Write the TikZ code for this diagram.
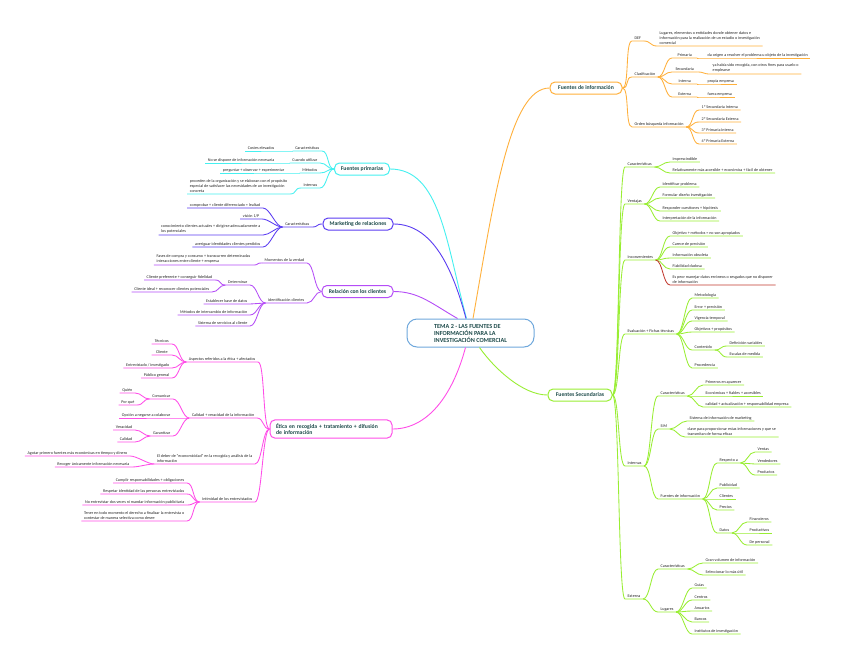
\documentclass[tikz,border=0pt]{standalone}
\usepackage{fontspec}
\setmainfont{Carlito}
\usepackage{tikz}

\definecolor{cOrange}{HTML}{FFB03B}
\definecolor{cLime}{HTML}{99EE33}
\definecolor{cCyan}{HTML}{45F0F0}
\definecolor{cViolet}{HTML}{5B3DF2}
\definecolor{cPurple}{HTML}{B54DF7}
\definecolor{cPink}{HTML}{FF4DE8}
\definecolor{cRed}{HTML}{C23A30}
\definecolor{topictxt}{HTML}{1E4B4B}
\definecolor{centre}{HTML}{6FA8DC}

\newcommand{\lffont}{\fontsize{4.1}{5.1}\selectfont}
\newcommand{\tpfont}{\bfseries\fontsize{5.7}{6.7}\selectfont}

\tikzset{
  lbl/.style={font=\lffont, text=black!85, inner xsep=2.5pt, inner ysep=0.7pt},
  rt/.style={lbl, text depth=0.9pt, anchor=south west},
  lt/.style={lbl, text depth=0.9pt, anchor=south east},
  rtm/.style={lbl, align=left, inner ysep=1.3pt, anchor=south west},
  ltm/.style={lbl, align=left, inner ysep=1.3pt, anchor=south east},
  topic/.style={draw=#1, rounded corners=5pt, line width=1pt, fill=white,
    font=\tpfont, text=topictxt, inner xsep=5pt, minimum height=12pt},
  rlink/.style={line width=0.85pt, draw=#1, out=0, in=180, distance=7pt},
  llink/.style={line width=0.85pt, draw=#1, out=180, in=0, distance=7pt},
}

\begin{document}
\begin{tikzpicture}[x=1pt,y=-1pt]
  \fill[white,use as bounding box] (0,0) rectangle (848,664);

  % centre
  \node[draw=centre, line width=1pt, rounded corners=10pt, fill=white,
    font=\bfseries\fontsize{6.2}{7}\selectfont, text=topictxt, align=left,
    inner xsep=12pt, minimum width=127pt, minimum height=28pt] (c) at (470.5,333)
    {TEMA 2 - LAS FUENTES DE\\INFORMACIÓN PARA LA\\INVESTIGACIÓN COMERCIAL};

  % Fuentes de informacion
  \node[topic=cOrange, minimum width=72pt] (fi) at (586,88) {Fuentes de información};
  \node[rt] (def) at (632,41) {DEF};
  \node[rtm] (defl) at (657,46) {Lugares, elementos o entidades donde obtener datos e\\información para la realización de un estudio o investigación\\comercial};
  \node[rt] (clas) at (632,77) {Clasificación};
  \node[rt, minimum width=25pt] (prim) at (672,58) {Primaria};
  \node[rt] (priml) at (705,58) {da origen a resolver el problema u objeto de la investigación};
  \node[rt, minimum width=25pt] (sec) at (672,72) {Secundaria};
  \node[rtm] (secl) at (710,74) {ya había sido recogida, con otros fines para usarlo o\\emplearse};
  \node[rt, minimum width=25pt] (int) at (672,84) {Interna};
  \node[rt] (intl) at (705,84) {propia empresa};
  \node[rt, minimum width=25pt] (ext) at (672,97) {Externa};
  \node[rt] (extl) at (705,97) {fuera empresa};
  \node[rt] (ord) at (632,127) {Orden búsqueda información};
  \node[rt] (o1) at (699,110) {1º Secundaria Interna};
  \node[rt] (o2) at (699,122) {2º Secundaria Externa};
  \node[rt] (o3) at (699,133) {3º Primaria Interna};
  \node[rt] (o4) at (699,144) {4º Primaria Externa};

  % Fuentes Secundarias
  \node[topic=cLime, minimum width=64pt] (fs) at (580,395) {Fuentes Secundarias};
  \node[rt] (car) at (625,167) {Características};
  \node[rt] (car1) at (670,162) {Imprescindible};
  \node[rt] (car2) at (670,173) {Relativamente más accesible + económica + fácil de obtener};
  \node[rt] (ven) at (625,204) {Ventajas};
  \node[rt] (ven1) at (660,187) {Identificar problema};
  \node[rt] (ven2) at (660,198) {Formular diseño investigación};
  \node[rt] (ven3) at (660,211) {Responder cuestiones + hipótesis};
  \node[rt] (ven4) at (660,221) {Interpretación de la información};
  \node[rt] (inc) at (625,260) {Inconvenientes};
  \node[rt] (inc1) at (670,236) {Objetivo + métodos = no son apropiados};
  \node[rt] (inc2) at (670,247) {Carece de precisión};
  \node[rt] (inc3) at (670,258) {Información obsoleta};
  \node[rt] (inc4) at (670,269) {Fiabilidad dudosa};
  \node[rtm] (inc5) at (670,285) {Es peor manejar datos erróneos o sesgados que no disponer\\de información};
  \node[rt] (eva) at (625,334) {Evaluación + Fichas técnicas};
  \node[rt] (ev1) at (692,298) {Metodología};
  \node[rt] (ev2) at (692,310) {Error + precisión};
  \node[rt] (ev3) at (692,321) {Vigencia temporal};
  \node[rt] (ev4) at (692,332) {Objetivos + propósitos};
  \node[rt] (ev5) at (692,350) {Contenido};
  \node[rt] (ev51) at (727,346) {Definición variables};
  \node[rt] (ev52) at (727,357) {Escalas de medida};
  \node[rt] (ev6) at (692,368) {Procedencia};
  \node[rt] (inte) at (625,466) {Internas};
  \node[rt] (icar) at (658,396) {Características};
  \node[rt] (icar1) at (703,385) {Primeros en aparecer};
  \node[rt] (icar2) at (703,396) {Económicas + fiables + accesibles};
  \node[rt] (icar3) at (703,407) {calidad + actualización + responsabilidad empresa};
  \node[rt] (sim) at (658,429) {SIM};
  \node[rt] (sim1) at (687,421) {Sistema de información de marketing};
  \node[rtm] (sim2) at (685,437) {clave para proporcionar estas informaciones y que se\\transmitan de forma eficaz};
  \node[rt] (ifu) at (658,499) {Fuentes de información};
  \node[rt] (res) at (717,463) {Respecto a};
  \node[rt] (res1) at (755,452) {Ventas};
  \node[rt] (res2) at (755,464) {Vendedores};
  \node[rt] (res3) at (755,475) {Productos};
  \node[rt] (pub) at (717,488) {Publicidad};
  \node[rt] (cli) at (717,499) {Clientes};
  \node[rt] (pre) at (717,510) {Precios};
  \node[rt] (dat) at (717,533) {Datos};
  \node[rt] (dat1) at (747,522) {Financieros};
  \node[rt] (dat2) at (747,533) {Productivos};
  \node[rt] (dat3) at (747,545) {De personal};
  \node[rt] (exte) at (625,599) {Externa};
  \node[rt] (ecar) at (658,569) {Características};
  \node[rt] (ecar1) at (703,563) {Gran volumen de información};
  \node[rt] (ecar2) at (703,575) {Seleccionar lo más útil};
  \node[rt] (lug) at (658,612) {Lugares};
  \node[rt] (lug1) at (692,588) {Guías};
  \node[rt] (lug2) at (692,600) {Centros};
  \node[rt] (lug3) at (692,611) {Anuarios};
  \node[rt] (lug4) at (692,622) {Bancos};
  \node[rt] (lug5) at (692,634) {Institutos de investigación};

  % Fuentes primarias
  \node[topic=cCyan, minimum width=55pt] (fp) at (362,169) {Fuentes primarias};
  \node[lt] (pcar) at (322,151) {Características};
  \node[lt] (pcar1) at (277,151) {Costes elevados};
  \node[lt] (pcu) at (320,163) {Cuando utilizar};
  \node[lt] (pcu1) at (277,163) {No se dispone de información necesaria};
  \node[lt] (pme) at (320,173) {Métodos};
  \node[lt] (pme1) at (287,173) {preguntar + observar + experimentar};
  \node[lt] (pin) at (320,188) {Internas};
  \node[ltm] (pin1) at (290,194) {proceden de la organización y se elaboran con el propósito\\especial de satisfacer las necesidades de un investigación\\concreta};

  % Marketing de relaciones
  \node[topic=cViolet, minimum width=70pt] (mr) at (358,224) {Marketing de relaciones};
  \node[lt] (mcar) at (312,227) {Características};
  \node[lt] (m1) at (263,208) {comprobar + cliente diferenciado = lealtad};
  \node[lt] (m2) at (262,219) {visión 1/P};
  \node[ltm] (m3) at (263,235) {conocimiento clientes actuales + dirigirse adecuadamente a\\los potenciales};
  \node[lt] (m4) at (263,247) {averiguar identidades clientes perdidos};

  % Relacion con los clientes
  \node[topic=cPurple, minimum width=71pt] (rc) at (357.5,291.5) {Relación con los clientes};
  \node[lt] (rmo) at (307,263) {Momentos de la verdad};
  \node[ltm] (rmo1) at (253,265) {Fases de compra y consumo + transcurren determinadas\\interacciones entre cliente + empresa};
  \node[lt] (rid) at (307,303) {Identificación clientes};
  \node[lt] (rdet) at (250,285) {Determinar};
  \node[lt] (rdet1) at (215,280) {Cliente preferente + conseguir fidelidad};
  \node[lt] (rdet2) at (212,292) {Cliente ideal + reconocer clientes potenciales};
  \node[lt] (rba) at (250,304) {Establecer base de datos};
  \node[lt] (rme) at (250,315) {Métodos de intercambio de información};
  \node[lt] (rsi) at (250,326) {Sistema de servicios al cliente};

  % Etica
  \node[topic=cPink, align=left, text width=110pt, inner xsep=6pt] (et) at (331,429)
    {Ética en recogida + tratamiento + difusión\\de información};
  \node[lt] (easp) at (258,362) {Aspectos referidos a la ética + afectados};
  \node[lt, minimum width=20pt] (ea1) at (172,344) {Técnicos};
  \node[lt, minimum width=20pt] (ea2) at (172,355) {Cliente};
  \node[lt] (ea3) at (172,368) {Entrevistado / investigado};
  \node[lt] (ea4) at (172,378) {Público general};
  \node[lt] (ecal) at (257,418) {Calidad + veracidad de la información};
  \node[lt] (ecom) at (173,399) {Comunicar};
  \node[lt] (ecom1) at (135,393) {Quién};
  \node[lt] (ecom2) at (137,405) {Por qué};
  \node[lt] (eop) at (173,418) {Opción a negarse a colaborar};
  \node[lt] (egar) at (173,436) {Garantizar};
  \node[lt] (egar1) at (135,430) {Veracidad};
  \node[lt] (egar2) at (135,442) {Calidad};
  \node[ltm] (eeco) at (255,464) {El deber de ``economicidad'' en la recogida y análisis de la\\información};
  \node[lt] (eeco1) at (130,456) {Agotar primero fuentes más económicas en tiempo y dinero};
  \node[lt] (eeco2) at (132,467) {Recoger únicamente información necesaria};
  \node[lt] (eint) at (255,502) {Intimidad de los entrevistados};
  \node[lt] (ei1) at (187,483) {Cumplir responsabilidades + obligaciones};
  \node[lt] (ei2) at (187,494) {Respetar identidad de las personas entrevistadas};
  \node[lt] (ei3) at (187,505) {No entrevistar dos veces ni mandar información publicitaria};
  \node[ltm] (ei4) at (187,521) {Tener en todo momento el derecho a finalizar la entrevista o\\contestar de manera selectiva como desee};

  % main branches
  \draw[line width=0.9pt, cOrange] ([xshift=2.5pt]c.north) to[out=80, in=180, out distance=120pt, in distance=40pt] (fi.west);
  \draw[line width=0.9pt, cLime] ([xshift=9pt]c.south) to[out=-55, in=180, out distance=25pt, in distance=25pt] (fs.west);
  \draw[line width=0.9pt, cCyan] ([xshift=-4pt]c.north) to[out=105, in=0, out distance=80pt, in distance=50pt] (fp.east);
  \draw[line width=0.9pt, cViolet] ([xshift=-4.5pt]c.north) to[out=105, in=0, out distance=50pt, in distance=40pt] (mr.east);
  \draw[line width=0.9pt, cPurple] ([xshift=-13pt]c.north) to[out=150, in=0, out distance=30pt, in distance=25pt] (rc.east);
  \draw[line width=0.9pt, cPink] ([xshift=-5pt]c.south) to[out=-105, in=0, out distance=50pt, in distance=35pt] (et.east);

  % right side
  \foreach \b in {def,clas,ord}
    \draw[rlink=cOrange] (fi.east) to (\b.south west) -- (\b.south east);
  \foreach \a/\b in {def/defl,clas/prim,clas/sec,clas/int,clas/ext,prim/priml,sec/secl,int/intl,ext/extl,ord/o1,ord/o2,ord/o3,ord/o4}
    \draw[rlink=cOrange] (\a.south east) to (\b.south west) -- (\b.south east);
  \foreach \b in {car,ven,inc,eva,inte,exte}
    \draw[rlink=cLime] (fs.east) to (\b.south west) -- (\b.south east);
  \foreach \a/\b in {car/car1,car/car2,ven/ven1,ven/ven2,ven/ven3,ven/ven4,inc/inc1,inc/inc2,inc/inc3,inc/inc4,
      eva/ev1,eva/ev2,eva/ev3,eva/ev4,eva/ev5,ev5/ev51,ev5/ev52,eva/ev6,
      inte/icar,icar/icar1,icar/icar2,icar/icar3,inte/sim,sim/sim1,sim/sim2,inte/ifu,
      ifu/res,res/res1,res/res2,res/res3,ifu/pub,ifu/cli,ifu/pre,ifu/dat,dat/dat1,dat/dat2,dat/dat3,
      exte/ecar,ecar/ecar1,ecar/ecar2,exte/lug,lug/lug1,lug/lug2,lug/lug3,lug/lug4,lug/lug5}
    \draw[rlink=cLime] (\a.south east) to (\b.south west) -- (\b.south east);
  \draw[rlink=cRed] (inc.south east) to (inc5.south west) -- (inc5.south east);

  % left side
  \foreach \b in {pcar,pcu,pme,pin}
    \draw[llink=cCyan] (fp.west) to (\b.south east) -- (\b.south west);
  \foreach \a/\b in {pcar/pcar1,pcu/pcu1,pme/pme1,pin/pin1}
    \draw[llink=cCyan] (\a.south west) to (\b.south east) -- (\b.south west);
  \draw[llink=cViolet] (mr.west) to (mcar.south east) -- (mcar.south west);
  \foreach \b in {m1,m2,m3,m4}
    \draw[llink=cViolet] (mcar.south west) to (\b.south east) -- (\b.south west);
  \foreach \b in {rmo,rid}
    \draw[llink=cPurple] (rc.west) to (\b.south east) -- (\b.south west);
  \foreach \a/\b in {rmo/rmo1,rid/rdet,rdet/rdet1,rdet/rdet2,rid/rba,rid/rme,rid/rsi}
    \draw[llink=cPurple] (\a.south west) to (\b.south east) -- (\b.south west);
  \foreach \b in {easp,ecal,eeco,eint}
    \draw[llink=cPink] (et.west) to (\b.south east) -- (\b.south west);
  \foreach \a/\b in {easp/ea1,easp/ea2,easp/ea3,easp/ea4,ecal/ecom,ecom/ecom1,ecom/ecom2,ecal/eop,ecal/egar,
      egar/egar1,egar/egar2,eeco/eeco1,eeco/eeco2,eint/ei1,eint/ei2,eint/ei3,eint/ei4}
    \draw[llink=cPink] (\a.south west) to (\b.south east) -- (\b.south west);
\end{tikzpicture}
\end{document}
